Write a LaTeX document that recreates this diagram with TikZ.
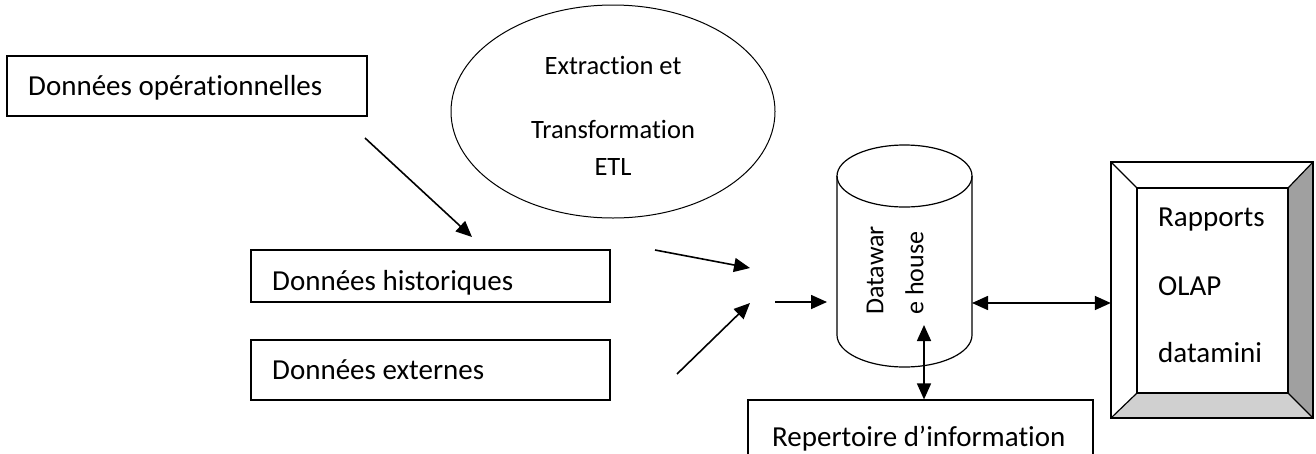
\documentclass[tikz,border=0pt]{standalone}
\usepackage{fontspec}
\setmainfont{Carlito}[Ligatures=NoCommon]
\usetikzlibrary{arrows.meta,shapes.geometric}
\definecolor{bevdark}{HTML}{A0A0A0}
\definecolor{bevlight}{HTML}{D0D0D0}
\begin{document}
\begin{tikzpicture}[x=1pt,y=1pt,
  box/.style={draw, line width=1.2pt, rectangle, inner sep=0pt},
  txt/.style={font=\fontsize{29}{35}\selectfont, inner sep=0pt, anchor=base west},
  etxt/.style={font=\fontsize{26.5}{32}\selectfont, inner sep=0pt, anchor=base},
  arr/.style={line width=1.6pt, -{Triangle[length=16pt,width=14pt]}},
  darr/.style={line width=1.6pt, {Triangle[length=16pt,width=14pt]}-{Triangle[length=16pt,width=14pt]}}]
\useasboundingbox (0,0) rectangle (1316,-453);
\clip (0,0) rectangle (1316,-453);
\fill[white] (0,0) rectangle (1316,-453);

% boxes
\node[box, minimum width=360pt, minimum height=60pt] (op) at (187,-86) {};
\node[txt] (optxt) at (28,-95) {Données opérationnelles};
\node[box, minimum width=359pt, minimum height=52pt] (hist) at (430.5,-276) {};
\node[txt] (histtxt) at (272,-290) {Données historiques};
\node[box, minimum width=359pt, minimum height=60pt] (ext) at (430.5,-370) {};
\node[txt] (exttxt) at (272,-379) {Données externes};
\node[box, minimum width=345pt, minimum height=80pt] (rep) at (920.5,-440) {};
\node[txt] (reptxt) at (772,-446) {Repertoire d’information};

% ellipse
\node[draw, ellipse, line width=1pt, minimum width=324pt, minimum height=213pt, inner sep=0pt] (etl) at (613,-111.5) {};
\node[etxt] (etl1) at (613,-74) {Extraction et};
\node[etxt] (etl2) at (613,-138) {Transformation};
\node[etxt] (etl3) at (613,-175) {ETL};

% cylinder
\node[minimum width=135pt, minimum height=222pt, inner sep=0pt] (dw) at (904.5,-256) {};
\draw[line width=1.2pt, fill=white] (837,-176) -- (837,-335) arc[start angle=180, end angle=360, x radius=67.5, y radius=32] -- (972,-176);
\draw[line width=1.2pt] (904.5,-176) ellipse [x radius=67.5, y radius=31];
\node[rotate=90, anchor=west, align=left, inner sep=0pt, font=\fontsize{26}{40}\selectfont] (dwtxt) at (895,-315) {Datawar\\e house};

% frame
\node[minimum width=202pt, minimum height=256pt, inner sep=0pt] (frame) at (1212,-290) {};
\fill[bevdark] (1288,-188) -- (1313,-162) -- (1313,-418) -- (1288,-393) -- cycle;
\fill[bevlight] (1137,-393) -- (1288,-393) -- (1313,-418) -- (1111,-418) -- cycle;
\draw[line width=1.2pt] (1111,-162) rectangle (1313,-418);
\draw[line width=1.2pt] (1137,-188) rectangle (1288,-393);
\draw[line width=1.2pt] (1111,-162) -- (1137,-188) (1313,-162) -- (1288,-188)
  (1313,-418) -- (1288,-393) (1111,-418) -- (1137,-393);
\node[txt] (r1) at (1158,-226) {Rapports};
\node[txt] (r2) at (1158,-295) {OLAP};
\node[txt] (r3) at (1158,-362) {datamini};

% connector endpoints
\coordinate (c1s) at (365,-138);
\coordinate (c1e) at (472,-237);
\coordinate (a1s) at (655,-250);
\coordinate (a1e) at (750,-268);
\coordinate (a2s) at (677,-374);
\coordinate (a2e) at (750,-303);
\coordinate (a3s) at (775,-302);
\coordinate (a3e) at (827,-302);
\coordinate (dwR) at (972,-303);
\coordinate (dwB) at (924,-325);

\draw[arr] (c1s) -- (c1e);
\draw[arr] (a1s) -- (a1e);
\draw[arr] (a2s) -- (a2e);
\draw[arr] (a3s) -- (a3e);
\draw[darr] (dwR) -- (frame.west |- dwR);
\draw[darr] (dwB) -- (dwB |- rep.north);
\end{tikzpicture}
\end{document}
